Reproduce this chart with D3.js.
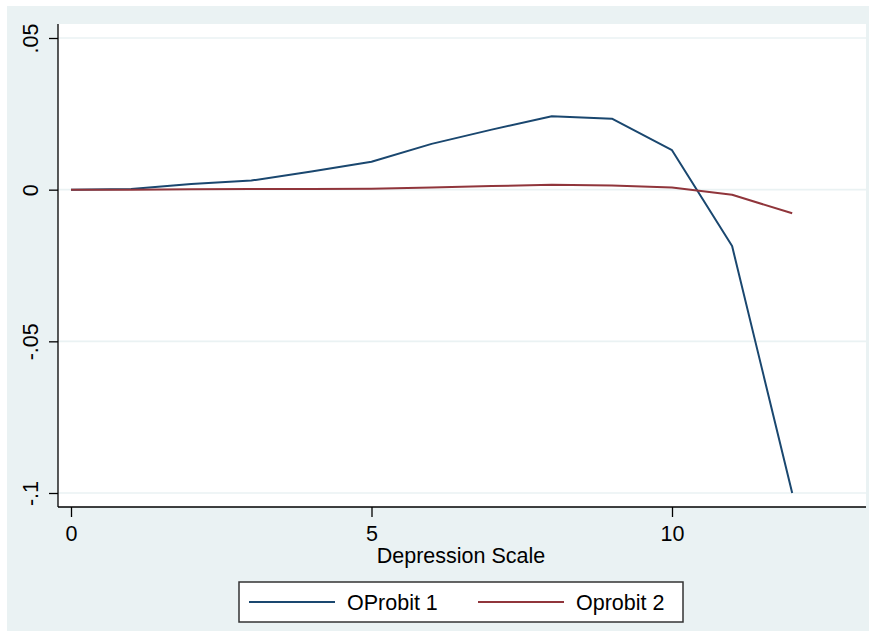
<!DOCTYPE html>
<html lang="en">
<head>
<meta charset="UTF-8">
<title>Depression Scale</title>
<script src="https://d3js.org/d3.v7.min.js"></script>
<style>
  body { margin: 0; background: #fff; }
  svg { display: block; font-family: "Liberation Sans", Arial, sans-serif; }
</style>
</head>
<body>
<script>
    // Data
    const scale = [0, 1, 2, 3, 4, 5, 6, 7, 8, 9, 10, 11, 12];
    const oprobit1 = [0, 0.0002, 0.0019, 0.003, 0.006, 0.0092, 0.0151, 0.0198, 0.0242, 0.0234, 0.013, -0.0186, -0.1];
    const oprobit2 = [0, 0, 0.0001, 0.0002, 0.0002, 0.0003, 0.0007, 0.0012, 0.0016, 0.0014, 0.0007, -0.0017, -0.0078];
    const xTicks = [0, 5, 10];
    const yTicks = [-0.1, -0.05, 0, 0.05];
    const yTickLabels = ["-.1", "-.05", "0", ".05"];
    const seriesNames = ["OProbit 1", "Oprobit 2"];
    const colors = ["#1a476f", "#90353b"];

    const W = 869, H = 631;
    const plot = { left: 58, top: 24, right: 866, bottom: 507 };
    const fs = 21.5;

    const svg = d3.select("body").append("svg")
        .attr("width", W).attr("height", H);

    // outer graph region
    svg.append("rect").attr("x", 7).attr("y", 6)
        .attr("width", W - 7).attr("height", H - 6)
        .attr("fill", "#eaf2f3");
    // plot region
    svg.append("rect").attr("x", plot.left).attr("y", plot.top)
        .attr("width", plot.right - plot.left).attr("height", plot.bottom - plot.top)
        .attr("fill", "#fff");

    const x = d3.scaleLinear().domain([0, 10]).range([71, 672]);
    const y = d3.scaleLinear().domain([-0.1, 0.05]).range([493, 38]);

    // gridlines
    svg.append("g").selectAll("line").data(yTicks).join("line")
        .attr("x1", plot.left).attr("x2", plot.right)
        .attr("y1", d => y(d)).attr("y2", d => y(d))
        .attr("stroke", "#eaf2f3").attr("stroke-width", 1.6);

    // lines
    const series = [oprobit1, oprobit2];
    const line = d3.line().x((d, i) => x(scale[i])).y(d => y(d));
    series.forEach((s, k) => {
        svg.append("path").datum(s)
            .attr("fill", "none").attr("stroke", colors[k])
            .attr("stroke-width", 2).attr("stroke-linejoin", "round")
            .attr("d", line);
    });

    // y axis
    const yAxis = svg.append("g")
        .attr("transform", `translate(${plot.left},0)`)
        .call(d3.axisLeft(y).tickValues(yTicks).tickSize(9).tickSizeOuter(0)
            .tickFormat((d, i) => yTickLabels[i]));
    yAxis.select(".domain").attr("d", `M0,${plot.top}V${plot.bottom}`).attr("stroke", "#000").attr("stroke-width", 1.3);
    yAxis.selectAll(".tick line").attr("stroke", "#000").attr("stroke-width", 1.3);
    yAxis.selectAll(".tick text")
        .attr("font-size", fs).attr("fill", "#000")
        .attr("text-anchor", "middle").attr("x", 0).attr("dy", 0)
        .attr("transform", "translate(-20,0) rotate(-90)")
        .attr("y", 0);

    // x axis
    const xAxis = svg.append("g")
        .attr("transform", `translate(0,${plot.bottom})`)
        .call(d3.axisBottom(x).tickValues(xTicks).tickSize(10).tickSizeOuter(0));
    xAxis.select(".domain").attr("d", `M${plot.left},0H${plot.right}`).attr("stroke", "#000").attr("stroke-width", 1.3);
    xAxis.selectAll(".tick line").attr("stroke", "#000").attr("stroke-width", 1.3);
    xAxis.selectAll(".tick text")
        .attr("font-size", fs).attr("fill", "#000").attr("y", 34).attr("dy", 0);

    // axis title
    svg.append("text").attr("x", 461).attr("y", 563)
        .attr("text-anchor", "middle").attr("font-size", fs)
        .text("Depression Scale");

    // legend
    const leg = svg.append("g");
    leg.append("rect").attr("x", 239).attr("y", 582)
        .attr("width", 444).attr("height", 40)
        .attr("fill", "#fff").attr("stroke", "#333").attr("stroke-width", 1.5);
    const legX = [249, 478];
    seriesNames.forEach((name, k) => {
        leg.append("line")
            .attr("x1", legX[k]).attr("x2", legX[k] + 86)
            .attr("y1", 602).attr("y2", 602)
            .attr("stroke", colors[k]).attr("stroke-width", 2);
        leg.append("text")
            .attr("x", legX[k] + 98).attr("y", 610)
            .attr("font-size", fs)
            .text(name);
    });
</script>
</body>
</html>
